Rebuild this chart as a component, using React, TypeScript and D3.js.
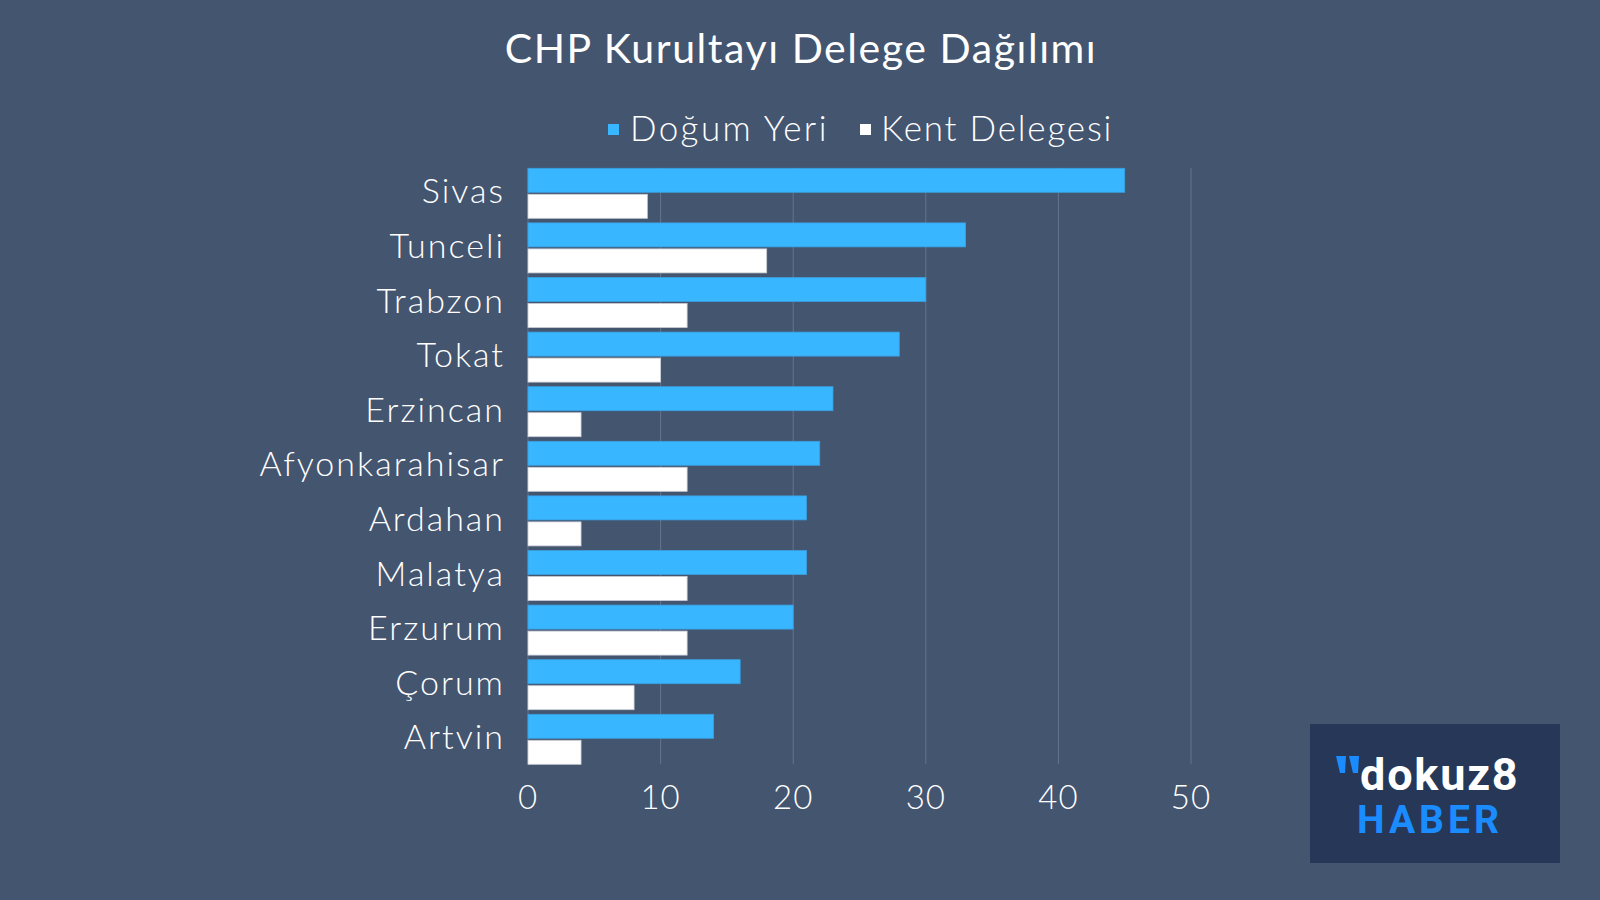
import React from 'react';
import * as d3 from 'd3';

const categories = ['Sivas', 'Tunceli', 'Trabzon', 'Tokat', 'Erzincan', 'Afyonkarahisar', 'Ardahan', 'Malatya', 'Erzurum', 'Çorum', 'Artvin'];
const dogumYeri = [45, 33, 30, 28, 23, 22, 21, 21, 20, 16, 14];
const kentDelegesi = [9, 18, 12, 10, 4, 12, 4, 12, 12, 8, 4];
const xTicks = [0, 10, 20, 30, 40, 50];
const seriesNames = ['Doğum Yeri', 'Kent Delegesi'];
const seriesColors = ['#38B6FF', '#FFFFFF'];
const titleText = 'CHP Kurultayı Delege Dağılımı';

const W = 1600;
const H = 900;
const BG = '#445570';
const FONT = 'Lato, "Open Sans", sans-serif';

export default function App() {
  const x = d3.scaleLinear().domain([0, 50]).range([528, 1191]);
  const y = d3.scaleBand<string>().domain(categories).range([166, 766.6]);
  const step = y.step();
  const barH = 24;
  const innerGap = 2;
  const offset = (step - 2 * barH - innerGap) / 2;
  const series = [dogumYeri, kentDelegesi];
  const gridTop = 168;
  const gridBottom = 764;

  return (
    <div style={{ position: 'fixed', left: 0, top: 0, width: W, height: H, background: BG }}>
      <svg width={W} height={H} style={{ display: 'block' }}>
        <defs>
          <clipPath id="plotClip">
            <rect x={0} y={0} width={1211} height={H} />
          </clipPath>
        </defs>
        <rect x={0} y={0} width={W} height={H} fill={BG} />
        <text x={801} y={63} textAnchor="middle" fill="#fff" fontFamily={FONT} fontSize={41} fontWeight={400} letterSpacing={1.55}>
          {titleText}
        </text>
        {/* legend */}
        <g fontFamily={FONT} fontSize={35} fill="#fff" fontWeight={300}>
          <rect x={608} y={124} width={11} height={11} fill={seriesColors[0]} />
          <text x={630} y={141} letterSpacing={2.4}>{seriesNames[0]}</text>
          <rect x={860} y={124} width={11} height={11} fill={seriesColors[1]} />
          <text x={881} y={141} letterSpacing={1.8}>{seriesNames[1]}</text>
        </g>
        <g clipPath="url(#plotClip)">
          {xTicks.map((t) => (
            <line key={'g' + t} x1={x(t)} x2={x(t)} y1={gridTop} y2={gridBottom} stroke="#65748e" strokeWidth={1} />
          ))}
          {categories.map((c, i) => (
            <g key={c}>
              {series.map((s, si) => (
                <rect
                  key={si}
                  x={x(0)}
                  y={(y(c) as number) + offset + si * (barH + innerGap)}
                  width={x(s[i]) - x(0)}
                  height={barH}
                  fill={seriesColors[si]}
                  stroke={si === 0 ? '#3aa0e0' : '#c9cdd6'}
                  strokeWidth={0.8}
                />
              ))}
            </g>
          ))}
          {xTicks.map((t) => (
            <text key={'t' + t} x={x(t)} y={809} textAnchor="middle" fill="#fff" fontFamily={FONT} fontSize={33} fontWeight={300} letterSpacing={1}>
              {t}
            </text>
          ))}
        </g>
        {categories.map((c) => (
          <text
            key={'l' + c}
            x={505}
            y={(y(c) as number) + step / 2 + 10}
            textAnchor="end"
            fill="#fff"
            fontFamily={FONT}
            fontSize={34}
            fontWeight={300}
            letterSpacing={2}
          >
            {c}
          </text>
        ))}
        {/* logo */}
        <g>
          <rect x={1310} y={724} width={250} height={139} fill="#273757" />
          <polygon points="1336,756 1346,756 1345,773 1340,773" fill="#1a8cff" />
          <polygon points="1349,756 1359,756 1358,773 1353,773" fill="#1a8cff" />
          <text x={1360} y={790} fill="#fff" fontFamily="Roboto, Inter, sans-serif" fontWeight={700} fontSize={45} letterSpacing={1.8}>
            dokuz8
          </text>
          <text x={1357} y={833} fill="#1a8cff" fontFamily="Roboto, Inter, sans-serif" fontWeight={700} fontSize={39} letterSpacing={4}>
            HABER
          </text>
        </g>
      </svg>
    </div>
  );
}
